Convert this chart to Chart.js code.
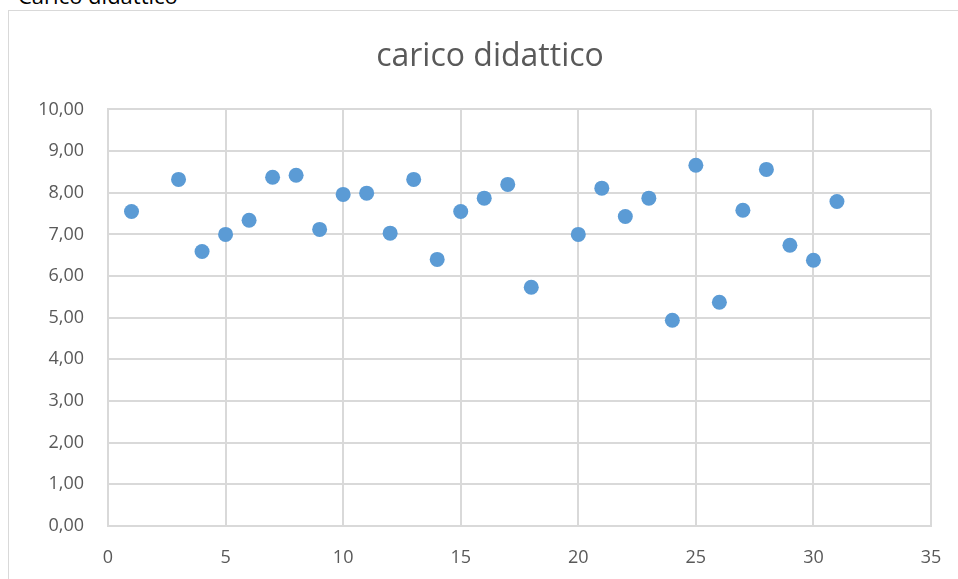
<!DOCTYPE html>
<html>
<head>
<meta charset="utf-8">
<script src="https://cdn.jsdelivr.net/npm/chart.js@4"></script>
<style>
  body { margin: 0; background: #fff; width: 958px; height: 579px; overflow: hidden; position: relative; font-family: "Open Sans", sans-serif; }
  #caption { position: absolute; left: 18px; top: -20px; font-size: 22px; color: #000; white-space: nowrap; }
  #frame { position: absolute; left: 8px; top: 10px; width: 1000px; height: 600px; border: 1px solid #d9d9d9; border-right: none; border-bottom: none; background: #fff; }
  #wrap { position: absolute; left: 9px; top: 11px; width: 949px; height: 568px; }
</style>
</head>
<body>
<div id="caption">Carico didattico</div>
<div id="frame"></div>
<div id="wrap"><canvas id="myChart"></canvas></div>
<script>
// numero di settimana / giorno e carico didattico
const giorni = [1, 3, 4, 5, 6, 7, 8, 9, 10, 11, 12, 13, 14, 15, 16, 17, 18, 20, 21, 22, 23, 24, 25, 26, 27, 28, 29, 30, 31]
const carico = [7.55, 8.32, 6.59, 7.00, 7.34, 8.37, 8.42, 7.12, 7.96, 7.99, 7.03, 8.32, 6.40, 7.55, 7.87, 8.20, 5.73, 7.00, 8.11, 7.43, 7.87, 4.94, 8.66, 5.37, 7.58, 8.56, 6.74, 6.38, 7.79]

const xTicks = [0, 5, 10, 15, 20, 25, 30, 35]
const yTicks = [0, 1, 2, 3, 4, 5, 6, 7, 8, 9, 10]

const punti = giorni.map((g, i) => ({ x: g, y: carico[i] }))

let ctx = document.getElementById('myChart')
const config = {
  type: 'scatter',
  data: {
    datasets: [{
      label: 'carico didattico',
      data: punti,
      backgroundColor: '#5b9bd5',
      borderColor: '#5b9bd5',
      pointRadius: 7.5,
      pointHoverRadius: 7.5,
      borderWidth: 0
    }]
  },
  options: {
    responsive: true,
    maintainAspectRatio: false,
    animation: false,
    // padding asimmetrico per centrare il titolo come in Excel
    layout: { padding: { left: 28, right: 15, top: 27, bottom: 0 } },
    plugins: {
      legend: { display: false },
      tooltip: { enabled: false },
      title: {
        display: true,
        text: 'carico didattico',
        color: '#595959',
        font: { family: 'Open Sans', size: 32, weight: 'normal' },
        padding: { top: 0, bottom: 33 }
      }
    },
    scales: {
      x: {
        type: 'linear',
        min: 0,
        max: 35,
        afterBuildTicks: (axis) => { axis.ticks = xTicks.map(v => ({ value: v })) },
        afterFit: (axis) => {
          axis.height = 53
          axis.paddingLeft = 0
          axis.paddingRight = 27
        },
        grid: { color: '#d9d9d9', lineWidth: 2, drawTicks: false },
        border: { color: '#d9d9d9', width: 2 },
        ticks: {
          color: '#595959',
          padding: 21,
          font: { family: 'Open Sans', size: 18 },
          maxRotation: 0
        }
      },
      y: {
        min: 0,
        max: 10,
        afterBuildTicks: (axis) => { axis.ticks = yTicks.map(v => ({ value: v })) },
        afterFit: (axis) => { axis.width = 71 },
        grid: { color: '#d9d9d9', lineWidth: 2, drawTicks: false },
        border: { color: '#d9d9d9', width: 2 },
        ticks: {
          color: '#595959',
          padding: 24,
          font: { family: 'Open Sans', size: 18 },
          callback: (v) => v.toFixed(2).replace('.', ',')
        }
      }
    }
  }
}
const myChart = new Chart(ctx, config)
</script>
</body>
</html>
